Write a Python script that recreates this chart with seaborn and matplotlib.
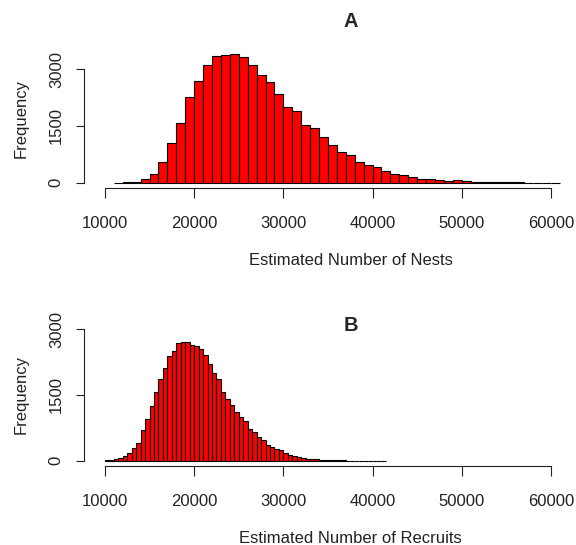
import numpy as np
import pandas as pd
import matplotlib
matplotlib.use("Agg")
import matplotlib.pyplot as plt
import seaborn as sns

# bin counts
nest_edges = list(range(11000, 61001, 1000))
nest_counts = [2, 8, 25, 96, 235, 540, 1040, 1580, 2260, 2695,
               3120, 3340, 3390, 3395, 3320, 3120, 2835, 2650, 2345, 2005,
               1900, 1535, 1455, 1210, 985, 820, 720, 550, 470, 410,
               305, 235, 190, 140, 105, 105, 60, 52, 60, 35,
               26, 15, 12, 9, 6, 5, 4, 3, 2, 1]

recruit_edges = list(range(10000, 41501, 500))
recruit_counts = [5, 10, 30, 60, 105, 170, 300, 410, 700, 945,
                  1240, 1570, 1865, 2125, 2380, 2510, 2695, 2715, 2715, 2650,
                  2610, 2540, 2405, 2200, 1995, 1865, 1560, 1410, 1270, 1110,
                  1005, 915, 730, 660, 550, 470, 360, 320, 275, 245,
                  170, 135, 105, 85, 65, 50, 38, 28, 20, 15,
                  11, 8, 6, 5, 4, 3, 2, 2, 1, 1,
                  1, 1, 1]

x_ticks = [10000, 20000, 30000, 40000, 50000, 60000]
y_ticks = [0, 1500, 3000]

sns.set_style("ticks")
plt.rcParams['font.family'] = ['Liberation Sans', 'DejaVu Sans']

fig = plt.figure(figsize=(5.76, 5.45), dpi=100)
axA = fig.add_axes([0.1458, 0.6554, 0.9253, 0.2547])
axB = fig.add_axes([0.1458, 0.1450, 0.9253, 0.2606])

panels = [
    (axA, nest_edges, nest_counts, "A", 1.195, "Estimated Number of Nests", (-136, 3536)),
    (axB, recruit_edges, recruit_counts, "B", 0.986, "Estimated Number of Recruits", (-120, 3120)),
]

for ax, edges, counts, title, ty, xlab, ylim in panels:
    df = pd.DataFrame({"left": edges[:-1], "count": counts})
    sns.histplot(data=df, x="left", weights="count", bins=edges, ax=ax,
                 color="red", alpha=1, edgecolor="black", linewidth=0.8)
    ax.set_xlim(7650, 67400)
    ax.set_ylim(*ylim)
    sns.despine(ax=ax)
    ax.spines['left'].set_bounds(0, 3000)
    ax.spines['bottom'].set_bounds(10000, 60000)
    for s in ['left', 'bottom']:
        ax.spines[s].set_linewidth(0.8)
        ax.spines[s].set_color("#222222")
    ax.set_xticks(x_ticks)
    ax.set_yticks(y_ticks)
    ax.tick_params(axis='x', length=7, width=0.8, color="#222222", pad=13,
                   labelsize=12, labelcolor="#222222")
    ax.tick_params(axis='y', length=5.5, width=0.8, color="#222222", pad=9,
                   labelsize=12, labelcolor="#222222", labelrotation=90)
    plt.setp(ax.get_yticklabels(), va="center")
    ax.set_title(title, fontsize=14.4, fontweight="bold", va="center", y=ty, pad=0)
    ax.set_xlabel(xlab, fontsize=12, color="#222222", va="center")
    ax.set_ylabel("Frequency", fontsize=12, color="#222222", va="center")

# label placement
axA.xaxis.set_label_coords(0.5, -0.526)
axB.xaxis.set_label_coords(0.5, -0.514)
axA.yaxis.set_label_coords(-0.118, 0.5)
axB.yaxis.set_label_coords(-0.118, 0.5)

fig.savefig("out.png", dpi=100)
